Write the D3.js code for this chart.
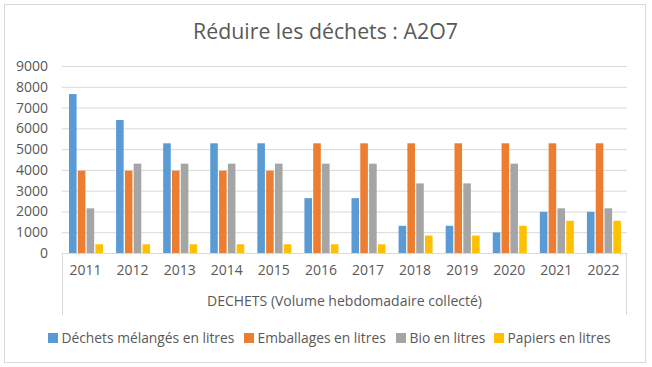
<!DOCTYPE html>
<html>
<head>
<meta charset="utf-8">
<script src="https://cdn.jsdelivr.net/npm/d3@7"></script>
<style>
  body { margin: 0; background: #fff; }
  text { font-family: "Open Sans", sans-serif; fill: #595959; }
</style>
</head>
<body>
<div id="chart"></div>
<script>
const years = ["2011", "2012", "2013", "2014", "2015", "2016", "2017", "2018", "2019", "2020", "2021", "2022"];
const seriesNames = ["Déchets mélangés en litres", "Emballages en litres", "Bio en litres", "Papiers en litres"];
const melanges = [7650, 6400, 5280, 5280, 5280, 2640, 2640, 1310, 1310, 990, 1980, 1980];
const emballages = [3960, 3960, 3960, 3960, 3960, 5280, 5280, 5280, 5280, 5280, 5280, 5280];
const bio = [2150, 4300, 4300, 4300, 4300, 4300, 4300, 3350, 3350, 4300, 2150, 2150];
const papiers = [420, 420, 420, 420, 420, 420, 420, 840, 840, 1310, 1550, 1550];
const yTicks = [0, 1000, 2000, 3000, 4000, 5000, 6000, 7000, 8000, 9000];
const colors = ["#5b9bd5", "#ed7d31", "#a5a5a5", "#ffc000"];

const width = 652;
const height = 367;
const plotLeft = 62, plotRight = 627, plotTop = 66, plotBottom = 253;

const allSeries = [melanges, emballages, bio, papiers];
const rows = years.map((y, i) => ({ year: y, values: allSeries.map(s => s[i]) }));

const svg = d3.select("#chart")
  .append("svg")
  .attr("width", width)
  .attr("height", height);

svg.append("rect")
  .attr("x", 4.5).attr("y", 4.5)
  .attr("width", 641).attr("height", 358)
  .attr("fill", "#fff")
  .attr("stroke", "#d9d9d9");

svg.append("text")
  .attr("x", 325.5)
  .attr("y", 39)
  .attr("text-anchor", "middle")
  .style("font-size", "21.3px")
  .text("Réduire les déchets : A2O7");

const xScale = d3.scaleBand()
  .domain(years)
  .range([plotLeft, plotRight]);

const xInner = d3.scaleBand()
  .domain(d3.range(4))
  .range([7, 41])
  .paddingInner(0.14);

const yScale = d3.scaleLinear()
  .domain([0, 9000])
  .range([plotBottom, plotTop]);

// grid
const yAxis = d3.axisLeft(yScale)
  .tickValues(yTicks)
  .tickSize(-(plotRight - plotLeft))
  .tickPadding(14)
  .tickFormat(d3.format("d"));

const yg = svg.append("g")
  .attr("transform", `translate(${plotLeft}, 0)`)
  .call(yAxis);
yg.select(".domain").remove();
yg.selectAll(".tick line").attr("stroke", "#d9d9d9");
yg.selectAll(".tick text").style("font-size", "14px").attr("fill", "#595959");

// bars
const groups = svg.selectAll(".year")
  .data(rows)
  .enter()
  .append("g")
  .attr("class", "year")
  .attr("transform", d => `translate(${xScale(d.year)}, 0)`);

groups.selectAll("rect")
  .data(d => d.values)
  .enter()
  .append("rect")
  .attr("x", (d, i) => xInner(i))
  .attr("y", d => yScale(d))
  .attr("width", xInner.bandwidth())
  .attr("height", d => yScale(0) - yScale(d))
  .attr("fill", (d, i) => colors[i]);

// category axis
const xAxis = d3.axisBottom(xScale).tickSize(0).tickPadding(12);
const xg = svg.append("g")
  .attr("transform", `translate(0, ${plotBottom})`)
  .call(xAxis);
xg.select(".domain").attr("stroke", "#d9d9d9");
xg.selectAll(".tick text").style("font-size", "14px").attr("fill", "#595959");

svg.append("line")
  .attr("x1", plotLeft + 0.5).attr("x2", plotLeft + 0.5)
  .attr("y1", plotBottom).attr("y2", 315)
  .attr("stroke", "#d9d9d9");
svg.append("line")
  .attr("x1", plotRight - 0.5).attr("x2", plotRight - 0.5)
  .attr("y1", plotBottom).attr("y2", 315)
  .attr("stroke", "#d9d9d9");

svg.append("text")
  .attr("x", (plotLeft + plotRight) / 2)
  .attr("y", 306)
  .attr("text-anchor", "middle")
  .style("font-size", "14px")
  .text("DECHETS (Volume hebdomadaire collecté)");

// legend
const legendX = [48, 244, 396, 494];
const legend = svg.selectAll(".legend")
  .data(seriesNames)
  .enter()
  .append("g")
  .attr("class", "legend")
  .attr("transform", (d, i) => `translate(${legendX[i]}, 333)`);

legend.append("rect")
  .attr("width", 10)
  .attr("height", 10)
  .attr("fill", (d, i) => colors[i]);

legend.append("text")
  .attr("x", 13.5)
  .attr("y", 10)
  .style("font-size", "13.8px")
  .text(d => d);
</script>
</body>
</html>
